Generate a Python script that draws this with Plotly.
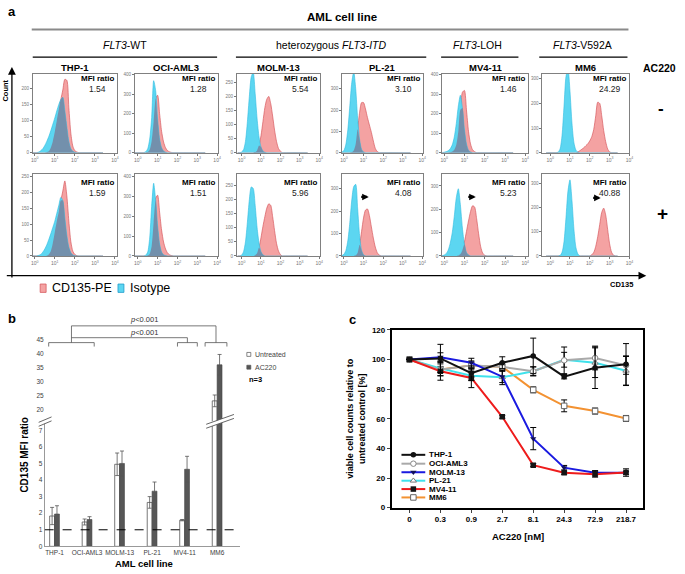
import plotly.graph_objects as go

W, H = 685, 574
FONT = "Liberation Sans, Arial, Helvetica, sans-serif"

# ---------------- panel a data ----------------
CELL_LINES = ["THP-1", "OCI-AML3", "MOLM-13", "PL-21", "MV4-11", "MM6"]
GENOTYPE_GROUPS = ["<i>FLT3</i>-WT", "heterozygous <i>FLT3-ITD</i>", "<i>FLT3</i>-LOH", "<i>FLT3</i>-V592A"]
MFI_UNTREATED = ["1.54", "1.28", "5.54", "3.10", "1.46", "24.29"]
MFI_AC220 = ["1.59", "1.51", "5.96", "4.08", "5.23", "40.88"]
HIST_X_TICKS = ["10<sup>0</sup>", "10<sup>1</sup>", "10<sup>2</sup>", "10<sup>3</sup>", "10<sup>4</sup>"]

# histogram bin centres (log10 fluorescence)
HIST_DECADES = [-0.2, -0.1, 0.0, 0.1, 0.2, 0.3, 0.4, 0.5, 0.6, 0.7, 0.8, 0.9,
                1.0, 1.1, 1.2, 1.3, 1.4, 1.5, 1.6, 1.7, 1.8, 1.9,
                2.0, 2.1, 2.2, 2.3, 2.4, 2.5, 2.6, 2.7, 2.8, 2.9,
                3.0, 3.1, 3.2, 3.3, 3.4]

# counts (untreated = NEG, AC220 = POS); ISO = isotype, PE = CD135-PE
THP1_NEG_ISO = [0, 0, 0, 0, 2, 6, 12, 22, 35, 50, 68, 88, 108, 130, 150, 165, 172, 130, 80, 35, 12, 4, 1, 0]
THP1_NEG_PE = [0, 0, 0, 0, 0, 0, 0, 0, 1, 4, 15, 35, 65, 100, 135, 165, 195, 228, 225, 140, 60, 20, 6, 2, 0]
THP1_POS_ISO = [0, 0, 0, 0, 2, 5, 12, 22, 35, 52, 70, 90, 110, 135, 160, 185, 175, 120, 65, 28, 10, 3, 1, 0]
THP1_POS_PE = [0, 0, 0, 0, 0, 0, 0, 0, 1, 5, 15, 40, 75, 110, 140, 175, 205, 237, 190, 110, 45, 15, 5, 1, 0]

OCI_NEG_ISO = [0, 0, 0, 0, 0, 0, 5, 20, 70, 180, 370, 320, 170, 70, 25, 8, 2, 0]
OCI_NEG_PE = [0, 0, 0, 0, 0, 0, 0, 3, 15, 60, 160, 280, 295, 200, 110, 55, 25, 10, 4, 1, 0]
OCI_POS_ISO = [0, 0, 0, 0, 0, 0, 4, 20, 90, 250, 365, 280, 150, 60, 20, 6, 2, 0]
OCI_POS_PE = [0, 0, 0, 0, 0, 0, 0, 2, 10, 50, 170, 290, 305, 220, 130, 70, 35, 15, 6, 2, 0]

MOLM_NEG_ISO = [0, 0, 2, 10, 40, 110, 200, 270, 285, 210, 120, 55, 20, 6, 1, 0]
MOLM_NEG_PE = [0, 0, 0, 0, 0, 0, 0, 0, 0, 2, 8, 25, 60, 110, 160, 190, 200, 175, 130, 80, 40, 15, 5, 0]
MOLM_POS_ISO = [0, 0, 3, 15, 50, 120, 200, 245, 240, 180, 100, 45, 15, 4, 0]
MOLM_POS_PE = [0, 0, 0, 0, 0, 0, 0, 0, 0, 3, 10, 30, 65, 105, 140, 170, 185, 180, 140, 90, 45, 18, 5, 0]

PL21_NEG_ISO = [0, 3, 10, 40, 110, 220, 330, 380, 300, 160, 60, 15, 3, 0]
PL21_NEG_PE = [0, 0, 0, 0, 0, 0, 2, 10, 40, 110, 190, 235, 235, 205, 165, 130, 95, 55, 20, 5, 0]
PL21_POS_ISO = [0, 2, 8, 25, 70, 150, 250, 310, 320, 210, 90, 25, 5, 0]
PL21_POS_PE = [0, 0, 0, 0, 0, 0, 0, 0, 3, 15, 50, 110, 170, 205, 210, 180, 130, 80, 40, 15, 4, 0]

MV411_NEG_ISO = [0, 0, 2, 5, 10, 20, 40, 80, 150, 240, 295, 230, 120, 45, 12, 3, 0]
MV411_NEG_PE = [0, 0, 0, 0, 0, 2, 6, 15, 40, 110, 220, 310, 320, 220, 110, 45, 15, 5, 0]
MV411_POS_ISO = [0, 1, 4, 10, 25, 55, 100, 170, 250, 288, 220, 120, 50, 15, 4, 0]
MV411_POS_PE = [0, 0, 0, 0, 0, 0, 0, 0, 0, 2, 8, 25, 60, 105, 150, 190, 215, 210, 160, 95, 40, 12, 3, 0]

MM6_NEG_ISO = [0, 0, 0, 0, 0, 0, 2, 15, 70, 190, 310, 340, 250, 120, 40, 10, 2, 0]
MM6_NEG_PE = [0, 0, 0, 0, 0, 0, 0, 0, 0, 0, 0, 0, 0, 0, 0, 0, 3, 8, 14, 20, 28, 36,
              48, 65, 95, 150, 205, 200, 150, 90, 45, 15, 3, 0]
MM6_POS_ISO = [0, 0, 0, 0, 0, 0, 0, 2, 15, 60, 160, 270, 315, 230, 110, 35, 8, 0]
MM6_POS_PE = [0, 0, 0, 0, 0, 0, 0, 0, 0, 0, 0, 0, 0, 0, 0, 0, 0, 0, 0, 0, 0, 0,
              0, 5, 15, 40, 80, 130, 180, 198, 170, 110, 50, 15, 3, 0]

HIST_YMAX = [[245, 405, 280, 370, 405, 320], [258, 410, 290, 365, 350, 338]]
HIST_YSTEP = [50, 100, 50, 100, 100, 100]

# ---------------- panel b data ----------------
B_UNTREATED = [1.83, 1.47, 4.95, 2.65, 1.58, 23.1]
B_UNTREATED_ERR = [0.52, 0.18, 0.68, 0.35, 0.04, 2.1]
B_AC220 = [1.95, 1.62, 5.0, 3.33, 4.65, 36.0]
B_AC220_ERR = [0.5, 0.17, 0.75, 0.55, 0.78, 3.7]
B_LOWER_TICKS = [0, 1, 2, 3, 4, 5, 6, 7]
B_UPPER_TICKS = [20, 25, 30, 35, 40, 45]

# ---------------- panel c data ----------------
C_DOSES = ["0", "0.3", "0.9", "2.7", "8.1", "24.3", "72.9", "218.7"]
C_THP1 = [100, 100.7, 90.7, 97.8, 102.4, 88.4, 94.4, 96.7]
C_THP1_ERR = [0, 9.5, 5, 4, 12, 1.5, 14, 14]
C_OCI = [100, 93, 96, 95, 92, 99.4, 101, 96]
C_OCI_ERR = [0, 4, 3, 3, 3, 9, 8, 6]
C_MOLM = [100, 101.5, 97.8, 88.4, 46.6, 27, 23.5, 23.5]
C_MOLM_ERR = [0, 3, 3, 4, 7.5, 1.5, 1.5, 1]
C_PL21 = [100, 94, 89, 88, 92, 99.8, 97.8, 92.4]
C_PL21_ERR = [0, 5, 3, 5, 3, 5, 10, 10]
C_MV411 = [100, 92, 87.5, 61.3, 28.7, 23.5, 22.6, 23.7]
C_MV411_ERR = [0, 6, 6.5, 1, 1, 1, 2, 2.5]
C_MM6 = [100, 93.3, 96, 95, 79.5, 68.7, 65.2, 60.2]
C_MM6_ERR = [0, 2, 2, 2, 2, 4, 2, 2]

# ======================================================================
fig = go.Figure()
ann, shp = [], []
lay = dict(width=W, height=H, margin=dict(l=0, r=0, t=0, b=0),
           paper_bgcolor="white", plot_bgcolor="rgba(0,0,0,0)",
           showlegend=False, font=dict(family=FONT, color="black"),
           barmode="group", bargap=0.7, bargroupgap=0)


def add_text(x, y, s, size, color="black", xanchor="center", yanchor="middle", angle=0):
    ann.append(dict(xref="paper", yref="paper", x=x / W, y=1 - y / H, text=s, showarrow=False,
                    xanchor=xanchor, yanchor=yanchor, textangle=angle,
                    font=dict(family=FONT, size=size, color=color)))


def add_line(x0, y0, x1, y1, color="black", width=1, dash="solid"):
    shp.append(dict(type="line", xref="paper", yref="paper", x0=x0 / W, y0=1 - y0 / H,
                    x1=x1 / W, y1=1 - y1 / H, line=dict(color=color, width=width, dash=dash)))


def add_poly(pts, fill, line_color=None, width=0):
    path = "M " + " L ".join(f"{x / W},{1 - y / H}" for x, y in pts) + " Z"
    shp.append(dict(type="path", xref="paper", yref="paper", path=path, fillcolor=fill,
                    line=dict(color=line_color or fill, width=width)))


def arrow(x_tip, y_tip, ax, ay, width=1.5, size=1.0):
    ann.append(dict(xref="paper", yref="paper", x=x_tip / W, y=1 - y_tip / H, ax=ax, ay=ay,
                    text="", showarrow=True, arrowhead=2, arrowsize=size, arrowwidth=width,
                    arrowcolor="black"))


def pad(v):
    return v + [0] * (len(HIST_DECADES) - len(v))


# ---------------- panel a ----------------
PE = [[THP1_NEG_PE, OCI_NEG_PE, MOLM_NEG_PE, PL21_NEG_PE, MV411_NEG_PE, MM6_NEG_PE],
      [THP1_POS_PE, OCI_POS_PE, MOLM_POS_PE, PL21_POS_PE, MV411_POS_PE, MM6_POS_PE]]
ISO = [[THP1_NEG_ISO, OCI_NEG_ISO, MOLM_NEG_ISO, PL21_NEG_ISO, MV411_NEG_ISO, MM6_NEG_ISO],
       [THP1_POS_ISO, OCI_POS_ISO, MOLM_POS_ISO, PL21_POS_ISO, MV411_POS_ISO, MM6_POS_ISO]]
MFI = [MFI_UNTREATED, MFI_AC220]

COL_LR = [(31, 116), (134, 218), (237, 321), (343, 425), (444, 531), (545, 633)]
ROW_TB = [(71, 151), (173, 256)]
XR = [(-0.1, 4.1), (-0.15, 4.05), (-0.24, 4.05), (-0.1, 4.05), (-0.1, 4.15), (-0.4, 4.0)]
MFI_DY = [(5, 15), (8, 19)]

for r in range(2):
    for c in range(6):
        k = r * 6 + c + 1
        s = "" if k == 1 else str(k)
        xa, ya = "x" + s, "y" + s
        pe, iso = pad(PE[r][c]), pad(ISO[r][c])
        ov = [min(a, b) for a, b in zip(pe, iso)]
        for yv, lc, fc, lw in [(pe, "#D75A60", "#F4A2A2", 0.7),
                               (iso, "#2FBCE0", "#5CD6F1", 0.6),
                               (ov, "rgba(0,0,0,0)", "#7390AC", 0)]:
            fig.add_trace(go.Scatter(x=HIST_DECADES, y=yv, mode="lines",
                                     line=dict(color=lc, width=lw, shape="spline", smoothing=0.7),
                                     fill="tozeroy", fillcolor=fc, xaxis=xa, yaxis=ya,
                                     hoverinfo="skip"))
        L, R = COL_LR[c]
        T, B = ROW_TB[r]
        ymax = HIST_YMAX[r][c]
        lay["xaxis" + s] = dict(domain=[L / W, R / W], range=list(XR[c]), anchor=ya,
                                showline=True, mirror=True, linecolor="#808080", linewidth=0.8,
                                ticks="outside", ticklen=2, tickwidth=0.5, tickcolor="#777",
                                tickvals=[0, 1, 2, 3, 4], ticktext=HIST_X_TICKS,
                                tickfont=dict(size=5, color="#777"), showgrid=False,
                                zeroline=False, fixedrange=True)
        lay["yaxis" + s] = dict(domain=[1 - B / H, 1 - T / H], range=[0, ymax], anchor=xa,
                                showline=True, mirror=True, linecolor="#808080", linewidth=0.8,
                                ticks="outside", ticklen=2, tickwidth=0.5, tickcolor="#777",
                                tickvals=list(range(0, ymax + 1, HIST_YSTEP[c])),
                                tickfont=dict(size=4.5, color="#777"), showgrid=False,
                                zeroline=False, fixedrange=True)
        add_text(R - 1, T + MFI_DY[r][0], "<b>MFI ratio</b>", 8, xanchor="right")
        add_text(R - 20, T + MFI_DY[r][1], MFI[r][c], 8.5, color="#222")
        if r == 0:
            add_text((L + R) / 2, 65, "<b>%s</b>" % CELL_LINES[c], 9.5)

# shift arrows (AC220 row)
arrow(370, 196, -9, 0, width=2.2, size=0.6)
arrow(478, 196, -9, 0, width=2.2, size=0.6)
arrow(604, 197, -9, 0, width=2.2, size=0.6)

add_text(4, 8, "<b>a</b>", 13, xanchor="left")
add_text(343, 13, "<b>AML cell line</b>", 11.5)
add_line(30, 26, 632, 26, "#8a8a8a", 2)
for (cx, label), (x0, x1) in zip([(124, GENOTYPE_GROUPS[0]), (332, GENOTYPE_GROUPS[1]),
                                  (480, GENOTYPE_GROUPS[2]), (586, GENOTYPE_GROUPS[3])],
                                 [(31, 217), (236, 428), (443, 521), (542, 631)]):
    add_text(cx, 42, label, 10.5)
    add_line(x0, 54, x1, 54, "black", 1.3)
add_text(663, 65, "<b>AC220</b>", 10.5)
add_text(665, 106, "<b>-</b>", 17)
add_text(666, 213, "<b>+</b>", 19)

arrow(10, 64, 0, 212, width=1.3, size=1.2)
arrow(650, 276, -641, 0, width=1.3, size=1.2)
add_text(4, 88, "<b>Count</b>", 7.5, angle=-90)
add_text(625, 285, "<b>CD135</b>", 7.5)

add_poly([(38.5, 284.5), (44.5, 284.5), (44.5, 293), (38.5, 293)], "#F4A2A2", "#D75A60", 0.8)
add_text(48, 289, "CD135-PE", 12.5, xanchor="left")
add_poly([(117, 284.5), (123, 284.5), (123, 293), (117, 293)], "#5CD6F1", "#1E9CCB", 0.8)
add_text(127, 289, "Isotype", 12.5, xanchor="left")

# ---------------- panel b ----------------
bx = list(range(len(CELL_LINES)))
for ya in ["y13", "y14"]:
    fig.add_trace(go.Bar(x=bx, y=B_UNTREATED, xaxis="x13", yaxis=ya, name="Untreated",
                         marker=dict(color="white", line=dict(color="#555", width=0.8)),
                         error_y=dict(type="data", array=B_UNTREATED_ERR, color="#555",
                                      thickness=0.8, width=2), hoverinfo="skip"))
    fig.add_trace(go.Bar(x=bx, y=B_AC220, xaxis="x13", yaxis=ya, name="AC220",
                         marker=dict(color="#575757", line=dict(color="#444", width=0.6)),
                         error_y=dict(type="data", array=B_AC220_ERR, color="#555",
                                      thickness=0.8, width=2), hoverinfo="skip"))

B_TICKFONT = dict(size=6.5, color="#404040", family=FONT)
lay["xaxis13"] = dict(domain=[43 / W, 240 / W], range=[-0.305, 5.7], anchor="y13",
                      tickvals=bx, ticktext=CELL_LINES, tickangle=0, tickfont=B_TICKFONT,
                      showline=True, linecolor="#999", linewidth=1, ticks="", showgrid=False,
                      zeroline=False, fixedrange=True)
lay["yaxis13"] = dict(domain=[1 - 551 / H, 1 - 425 / H], range=[0, 7.48], anchor="x13",
                      tickvals=B_LOWER_TICKS, tickfont=B_TICKFONT, showline=True, linecolor="#999",
                      linewidth=1, ticks="", showgrid=False, zeroline=False, fixedrange=True)
lay["yaxis14"] = dict(domain=[1 - 424 / H, 1 - 318 / H], range=[15.77, 53.1], anchor="x13",
                      tickvals=B_UPPER_TICKS, tickfont=B_TICKFONT, showline=False, ticks="",
                      showgrid=False, zeroline=False, fixedrange=True)

shp.append(dict(type="line", xref="x13", yref="y13", x0=-0.305, x1=5.7, y0=1, y1=1,
                line=dict(color="black", width=1, dash="dash")))


def bline(x0, y0, x1, y1):
    shp.append(dict(type="line", xref="x13", yref="y14", x0=x0, y0=y0, x1=x1, y1=y1,
                    line=dict(color="#555", width=0.8)))


for gx0, gx1 in [(-0.18, 1.22), (3.78, 4.39), (4.63, 5.3)]:
    bline(gx0, 43.94, gx1, 43.94)
    bline(gx0, 43.94, gx0, 42.54)
    bline(gx1, 43.94, gx1, 42.54)
bline(0.52, 43.94, 0.52, 49.93)
bline(0.52, 49.93, 4.965, 49.93)
bline(4.965, 49.93, 4.965, 43.94)
bline(0.52, 45.70, 4.085, 45.70)
bline(4.085, 45.70, 4.085, 43.94)
for yv in [52.1, 47.7]:
    ann.append(dict(xref="x13", yref="y14", x=2.74, y=yv, text="<i>p</i>&lt;0.001",
                    showarrow=False, font=dict(family=FONT, size=7.5, color="#333")))

# axis breaks
for (x0, x1, yl, yr) in [(206, 234, 431, 421), (37, 50, 429, 423.5)]:
    add_poly([(x0, yl), (x1, yr), (x1, yr - 4), (x0, yl - 4)], "white")
    add_line(x0, yl, x1, yr, "#555", 0.9)
    add_line(x0, yl - 4, x1, yr - 4, "#555", 0.9)

add_text(4, 320, "<b>b</b>", 13, xanchor="left")
add_text(23, 458, "<b>CD135 MFI ratio</b>", 10, angle=-90)
add_text(143, 568, "<b>AML cell line</b>", 9.5)
add_poly([(247, 354), (251, 354), (251, 358), (247, 358)], "white", "#555", 0.7)
add_text(253, 356, "Untreated", 7, color="#444", xanchor="left")
add_poly([(247, 367), (251, 367), (251, 371), (247, 371)], "#555", "#555", 0.7)
add_text(253, 369, "AC220", 7, color="#444", xanchor="left")
add_text(247, 381, "<b>n=3</b>", 7.5, xanchor="left")

# ---------------- panel c ----------------
C_SERIES = [
    ("MM6", C_MM6, C_MM6_ERR, "#F39232", dict(symbol="square", color="white", line=dict(color="#666", width=1))),
    ("PL-21", C_PL21, C_PL21_ERR, "#3FE2EC", dict(symbol="triangle-up", color="white", line=dict(color="#777", width=1))),
    ("OCI-AML3", C_OCI, C_OCI_ERR, "#A9A9A9", dict(symbol="circle", color="white", line=dict(color="#888", width=1))),
    ("MOLM-13", C_MOLM, C_MOLM_ERR, "#1A1AE0", dict(symbol="triangle-down", color="#10105a")),
    ("MV4-11", C_MV411, C_MV411_ERR, "#EE1C1C", dict(symbol="square", color="#151515")),
    ("THP-1", C_THP1, C_THP1_ERR, "#111111", dict(symbol="circle", color="#111111")),
]
for name, ys, es, col, mk in C_SERIES:
    fig.add_trace(go.Scatter(x=C_DOSES, y=ys, mode="lines+markers", name=name,
                             line=dict(color=col, width=2), marker=dict(size=5.5, **mk),
                             error_y=dict(type="data", array=es, color="black", thickness=1, width=3),
                             xaxis="x15", yaxis="y15", hoverinfo="skip"))

C_TICKFONT = dict(size=8, color="black", family=FONT, weight="bold")
lay["xaxis15"] = dict(domain=[393.3 / W, 646.7 / W], type="category", categoryorder="array",
                      categoryarray=C_DOSES, range=[-0.57, 7.55], anchor="y15", showline=True,
                      mirror=True, linecolor="black", linewidth=2, ticks="outside", ticklen=3,
                      tickwidth=1.2, tickfont=C_TICKFONT, showgrid=False, zeroline=False,
                      fixedrange=True)
lay["yaxis15"] = dict(domain=[1 - 511.7 / H, 1 - 331 / H], range=[0, 120], dtick=20,
                      anchor="x15", showline=True, mirror=True, linecolor="black", linewidth=2,
                      ticks="outside", ticklen=3, tickwidth=1.2, tickfont=C_TICKFONT,
                      showgrid=False, zeroline=False, fixedrange=True)

add_text(348, 321, "<b>c</b>", 13, xanchor="left")
add_text(357.5, 421, "<b>viable cell counts relative to<br>untreated control [%]</b>", 9, angle=-90)
add_text(521, 541, "<b>AC220 [nM]</b>", 9.5)

# legend for panel c (pixel-coordinate overlay axes)
lay["xaxis16"] = dict(domain=[0, 1], range=[0, W], visible=False, anchor="y16", fixedrange=True)
lay["yaxis16"] = dict(domain=[0, 1], range=[H, 0], visible=False, anchor="x16", fixedrange=True)
LEG_Y = [458, 467, 475.7, 484.3, 492.8, 501.3]
order = ["THP-1", "OCI-AML3", "MOLM-13", "PL-21", "MV4-11", "MM6"]
lookup = {s[0]: s for s in C_SERIES}
for yy, nm in zip(LEG_Y, order):
    _, _, _, col, mk = lookup[nm]
    fig.add_trace(go.Scatter(x=[403, 427], y=[yy, yy], mode="lines", line=dict(color=col, width=2),
                             xaxis="x16", yaxis="y16", hoverinfo="skip"))
    fig.add_trace(go.Scatter(x=[415], y=[yy], mode="markers", marker=dict(size=5.5, **mk),
                             xaxis="x16", yaxis="y16", hoverinfo="skip"))
    add_text(429, yy, "<b>%s</b>" % nm, 8, xanchor="left")

lay["annotations"] = ann
lay["shapes"] = shp
fig.update_layout(**lay)
fig.write_html("out.html", config={"displayModeBar": False},
               post_script="document.body.style.margin='0';document.body.style.overflow='hidden';")
